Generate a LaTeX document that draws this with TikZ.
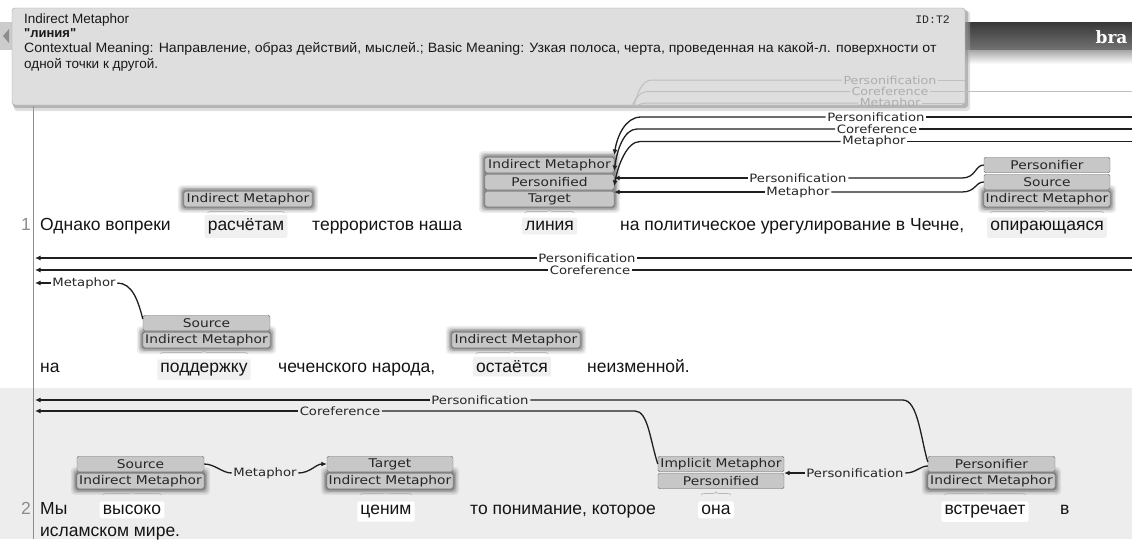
\documentclass[tikz,border=0pt]{standalone}
\usepackage{fontspec}
\setmainfont{Liberation Sans}
\newfontfamily\tipfont{Liberation Sans}
\newfontfamily\labfont{DejaVu Sans}
\newfontfamily\tipmono{Liberation Mono}
\newfontfamily\logofont{DejaVu Serif}
\usetikzlibrary{arrows.meta,decorations.pathreplacing}
\pgfdeclarelayer{back}
\pgfdeclarelayer{halo}
\pgfsetlayers{back,halo,main}
\newcommand\lbtxt[1]{\scalebox{1.15}[1]{#1}}
\newcommand\boxhalo[2]{%
 \begin{pgfonlayer}{halo}
 \foreach \hr/\ho in {6/0.07,4.5/0.10,3/0.16,1.5/0.22}{%
  \fill[black,opacity=\ho,rounded corners=4pt] ([shift={(-\hr pt,-\hr pt)}]#1.south west) rectangle ([shift={(\hr pt,\hr pt)}]#2.north east);}
 \end{pgfonlayer}}
\newcommand\wordbg[2]{%
 \begin{pgfonlayer}{back}
 \fill[#2,rounded corners=2pt] ([shift={(-3pt,-4pt)}]#1.south west) rectangle ([shift={(3pt,3pt)}]#1.north east);
 \end{pgfonlayer}}
\begin{document}
\begin{tikzpicture}[x=1pt,y=-1pt,
 lbox/.style={draw=black!55, fill=black!22, rounded corners=1.5pt, inner sep=0pt, minimum height=15.5pt, font=\labfont\fontsize{12}{12}\selectfont, text=black!85},
 alab/.style={inner sep=1.5pt, font=\labfont\fontsize{11.5}{11.5}\selectfont, text=black!85},
 ghost/.style={inner sep=1.2pt, font=\labfont\fontsize{11}{11}\selectfont, text=black!32},
 wd/.style={inner sep=0pt, anchor=base, font=\fontsize{17.5}{17.5}\selectfont, text=black!92},
 rownum/.style={inner sep=0pt, anchor=base east, font=\fontsize{17.5}{17.5}\selectfont, text=black!45},
 tip/.style={inner sep=0pt, anchor=base west, font=\tipfont\fontsize{13.5}{13.5}\selectfont, text=black!90},
 arc/.style={line width=1.3pt, black!88},
 arr/.style={arc, -{Latex[length=5.5pt,width=5pt]}},
 garc/.style={line width=1pt, black!25},
 wbrace/.style={decorate, decoration={brace, amplitude=3pt}, black!28, line width=0.7pt}]
\useasboundingbox (0,0) rectangle (1132,539);
\clip (0,0) rectangle (1132,539);
% ---------- backgrounds
\begin{pgfonlayer}{back}
\fill[white] (0,0) rectangle (1132,388);
\fill[black!7] (0,388) rectangle (1132,539);
\shade[top color=black!78, bottom color=black!55] (960,22) rectangle (1132,50);
\shade[top color=black!35, bottom color=white] (960,50) rectangle (1132,64);
\fill[black!20] (0,22) rectangle (12,50);
\end{pgfonlayer}
\fill[black!45] (9,29) -- (3,36) -- (9,43) -- cycle;
\node[anchor=base east, text=white, font=\logofont\bfseries\fontsize{17}{17}\selectfont] (logo) at (1131,43) {bra};
\draw[black!45, line width=0.8pt] (33,106) -- (33,539);
% ---------- tooltip
\fill[black!55, opacity=0.5, rounded corners=3pt] (13,10) rectangle (968,108);
\fill[black!30, opacity=0.4, rounded corners=3pt] (14,11) rectangle (970,111);
\filldraw[fill=black!13, draw=black!35, rounded corners=3pt] (12,8) rectangle (965,105);
\node[tip] (t1) at (24,23) {Indirect Metaphor};
\node[inner sep=0pt, anchor=base east, font=\tipmono\fontsize{11.5}{11.5}\selectfont, text=black!85] (tid) at (950,23) {ID:T2};
\node[tip, font=\tipfont\bfseries\fontsize{13}{13}\selectfont] (t2) at (24,37) {"линия"};
\node[tip] (t3) at (24,52) {\scalebox{1.045}[1]{Contextual Meaning: Направление, образ действий, мыслей.; Basic Meaning: Узкая полоса, черта, проведенная на какой-л. поверхности от}};
\node[tip] (t4) at (24,68) {одной точки к другой.};
% ---------- ghost arcs seen through the tooltip
\begin{scope}
\clip (12,8) rectangle (1132,106);
\node[ghost] (g1) at (890,80) {\lbtxt{Personification}};
\node[ghost] (g2) at (890,91.5) {\lbtxt{Coreference}};
\node[ghost] (g3) at (890,103) {\lbtxt{Metaphor}};
\coordinate (gr1) at (965,80);
\coordinate (gr2) at (1132,91.5);
\coordinate (gr3) at (965,103);
\coordinate (gl1) at (634,106);
\coordinate (gl2) at (632,106);
\coordinate (gl3) at (637,106);
\draw[garc] (gr1) -- (g1.east);
\draw[garc] (gr2) -- (g2.east);
\draw[garc] (gr3) -- (g3.east);
\draw[garc] (g1.west) -- (652,80) .. controls (641,80) and (637,95) .. (gl1);
\draw[garc] (g2.west) -- (648,91.5) .. controls (639,91.5) and (635,100) .. (gl2);
\draw[garc] (g3.west) -- (650,103) .. controls (643,103) and (639,104) .. (gl3);
\end{scope}
% ---------- sentence 1, row 1
\node[rownum] (n1) at (31,230) {1};
\node[lbox, minimum width=128pt] (rIM) at (248,199) {\lbtxt{Indirect Metaphor}};
\node[lbox, minimum width=129pt] (lIM) at (549.5,165) {\lbtxt{Indirect Metaphor}};
\node[lbox, minimum width=129pt] (lPer) at (549.5,182) {\lbtxt{Personified}};
\node[lbox, minimum width=129pt] (lTgt) at (549.5,199) {\lbtxt{Target}};
\node[lbox, minimum width=126pt] (oPer) at (1047,165) {\lbtxt{Personifier}};
\node[lbox, minimum width=126pt] (oSrc) at (1047,182) {\lbtxt{Source}};
\node[lbox, minimum width=126pt] (oIM) at (1047,199) {\lbtxt{Indirect Metaphor}};
\boxhalo{rIM}{rIM}
\boxhalo{lTgt}{lIM}
\boxhalo{oIM}{oIM}
\node[wd, anchor=base west] (w1) at (40,230) {Однако вопреки};
\node[wd] (w2) at (246,230) {расчётам};
\node[wd, anchor=base west] (w3) at (312,230) {террористов наша};
\node[wd] (w4) at (549.5,230) {линия};
\node[wd, anchor=base west] (w5) at (620,230) {на политическое урегулирование в Чечне,};
\node[wd] (w6) at (1047,230) {опирающаяся};
\wordbg{w2}{black!6}
\wordbg{w4}{black!6}
\wordbg{w6}{black!6}
\draw[wbrace] ([yshift=-6pt]w2.west |- rIM.south) -- ([yshift=-6pt]w2.east |- rIM.south);
\draw[wbrace] ([yshift=-6pt]w4.west |- lTgt.south) -- ([yshift=-6pt]w4.east |- lTgt.south);
\draw[wbrace] ([yshift=-6pt]w6.west |- oIM.south) -- ([yshift=-6pt]w6.east |- oIM.south);
% arcs coming from the next rows
\coordinate (e1) at (1132,117);
\coordinate (e2) at (1132,129);
\coordinate (e3) at (1132,141.5);
\node[alab] (a1) at (876,117) {\lbtxt{Personification}};
\node[alab] (a2) at (877,129) {\lbtxt{Coreference}};
\node[alab] (a3) at (874,141.5) {\lbtxt{Metaphor}};
\draw[arc] (e1) -- (a1.east);
\draw[arc] (e2) -- (a2.east);
\draw[arc] (e3) -- (a3.east);
\draw[arr] (a1.west) -- (641,117) .. controls (625,117) and (617,137) .. ([yshift=10pt]lIM.east);
\draw[arr] (a2.west) -- (637,129) .. controls (624,129) and (617,150) .. ([yshift=-6pt]lIM.east);
\draw[arr] (a3.west) -- (640,141.5) .. controls (627,141.5) and (618,165) .. ([yshift=-4pt]lPer.east);
% arcs from опирающаяся
\node[alab] (a4) at (798,178) {\lbtxt{Personification}};
\node[alab] (a5) at (798,192) {\lbtxt{Metaphor}};
\draw[arc] (oPer.west) .. controls (975,165) and (976,178) .. (962,178) -- (a4.east);
\draw[arr] (a4.west) -- ([yshift=4pt]lPer.east);
\draw[arc] (oSrc.west) .. controls (975,182) and (976,192) .. (962,192) -- (a5.east);
\draw[arr] (a5.west) -- ([yshift=7pt]lTgt.east);
% ---------- sentence 1, row 2
\node[lbox, minimum width=127pt] (pSrc) at (206.5,323) {\lbtxt{Source}};
\node[lbox, minimum width=127pt] (pIM) at (206.5,340) {\lbtxt{Indirect Metaphor}};
\node[lbox, minimum width=128pt] (sIM) at (516,340) {\lbtxt{Indirect Metaphor}};
\boxhalo{pIM}{pIM}
\boxhalo{sIM}{sIM}
\node[wd, anchor=base west] (x1) at (40,372) {на};
\node[wd] (x2) at (204,372) {поддержку};
\node[wd, anchor=base west] (x3) at (278,372) {чеченского народа,};
\node[wd] (x4) at (512,372) {остаётся};
\node[wd, anchor=base west] (x5) at (587,372) {неизменной.};
\wordbg{x2}{black!6}
\wordbg{x4}{black!6}
\draw[wbrace] ([yshift=-6pt]x2.west |- pIM.south) -- ([yshift=-6pt]x2.east |- pIM.south);
\draw[wbrace] ([yshift=-6pt]x4.west |- sIM.south) -- ([yshift=-6pt]x4.east |- sIM.south);
\coordinate (L1) at (35,258);
\coordinate (R1) at (1132,258);
\coordinate (L2) at (35,270);
\coordinate (R2) at (1132,270);
\coordinate (L3) at (35,283);
\node[alab] (b1) at (587,258) {\lbtxt{Personification}};
\node[alab] (b2) at (590,270) {\lbtxt{Coreference}};
\node[alab] (b3) at (84,283) {\lbtxt{Metaphor}};
\draw[arc] (R1) -- (b1.east);
\draw[arr] (b1.west) -- (L1);
\draw[arc] (R2) -- (b2.east);
\draw[arr] (b2.west) -- (L2);
\draw[arr] (b3.west) -- (L3);
\draw[arc] (b3.east) .. controls (132,283) and (138,300) .. ([yshift=4pt]pSrc.west);
% ---------- sentence 2
\node[rownum] (n2) at (31,514) {2};
\node[lbox, minimum width=127pt] (hSrc) at (140.5,464) {\lbtxt{Source}};
\node[lbox, minimum width=127pt] (hIM) at (140.5,481) {\lbtxt{Indirect Metaphor}};
\node[lbox, minimum width=126pt] (cTgt) at (390,464) {\lbtxt{Target}};
\node[lbox, minimum width=126pt] (cIM) at (390,481) {\lbtxt{Indirect Metaphor}};
\node[lbox, minimum width=126pt] (nImp) at (721,464) {\lbtxt{Implicit Metaphor}};
\node[lbox, minimum width=126pt] (nPer) at (721,481) {\lbtxt{Personified}};
\node[lbox, minimum width=127pt] (vPer) at (991.5,464) {\lbtxt{Personifier}};
\node[lbox, minimum width=127pt] (vIM) at (991.5,481) {\lbtxt{Indirect Metaphor}};
\boxhalo{hIM}{hIM}
\boxhalo{cIM}{cIM}
\boxhalo{vIM}{vIM}
\node[wd, anchor=base west] (y1) at (40,514) {Мы};
\node[wd] (y2) at (132,514) {высоко};
\node[wd] (y3) at (386,514) {ценим};
\node[wd, anchor=base west] (y4) at (470,514) {то понимание, которое};
\node[wd] (y5) at (716,514) {она};
\node[wd] (y6) at (985,514) {встречает};
\node[wd, anchor=base west] (y7) at (1060,514) {в};
\node[wd, anchor=base west] (y8) at (40,536) {исламском мире.};
\wordbg{y2}{white}
\wordbg{y3}{white}
\wordbg{y5}{white}
\wordbg{y6}{white}
\draw[wbrace] ([yshift=-6pt]y2.west |- hIM.south) -- ([yshift=-6pt]y2.east |- hIM.south);
\draw[wbrace] ([yshift=-6pt]y3.west |- cIM.south) -- ([yshift=-6pt]y3.east |- cIM.south);
\draw[wbrace] ([yshift=-6pt]y5.west |- nPer.south) -- ([yshift=-6pt]y5.east |- nPer.south);
\draw[wbrace] ([yshift=-6pt]y6.west |- vIM.south) -- ([yshift=-6pt]y6.east |- vIM.south);
\coordinate (L4) at (35,400);
\coordinate (L5) at (35,411);
\node[alab] (c1) at (480,400) {\lbtxt{Personification}};
\node[alab] (c2) at (340,411) {\lbtxt{Coreference}};
\node[alab] (c3) at (265,473) {\lbtxt{Metaphor}};
\node[alab] (c4) at (855,473) {\lbtxt{Personification}};
\draw[arr] (c1.west) -- (L4);
\draw[arc] ([yshift=2pt]vPer.west) .. controls (921,440) and (918,400) .. (903,400) -- (c1.east);
\draw[arr] (c2.west) -- (L5);
\draw[arc] (nImp.west) .. controls (650,440) and (648,411) .. (635,411) -- (c2.east);
\draw[arc] (hSrc.east) .. controls (215,464) and (222,473) .. (c3.west);
\draw[arr] (c3.east) .. controls (310,473) and (316,464) .. (cTgt.west);
\draw[arr] (c4.west) -- ([yshift=-9pt]nImp.east);
\draw[arc] ([yshift=-2pt]vPer.west) .. controls (920,466) and (916,473) .. (c4.east);
\end{tikzpicture}
\end{document}
